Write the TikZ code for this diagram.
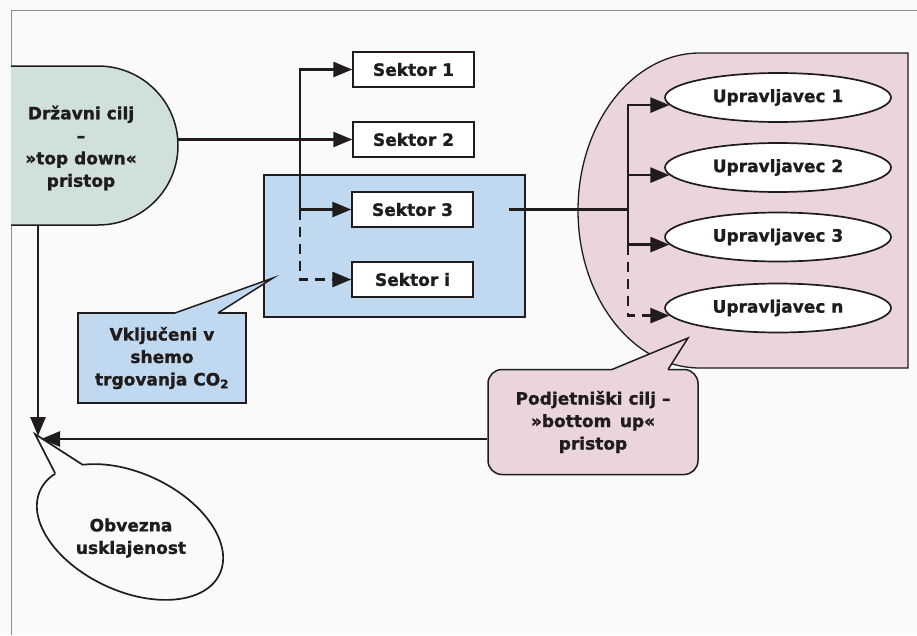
\documentclass[tikz,border=0pt]{standalone}
\usepackage{fontspec}
\setmainfont{DejaVu Sans}[BoldFeatures={FakeBold=1.2}]
\usepackage{xcolor}
\usepackage{tikz}
\usetikzlibrary{arrows, arrows.meta}
\usetikzlibrary{positioning}
\usetikzlibrary{shapes.geometric}

\definecolor{drzavnafill}{RGB}{208,225,217}
\definecolor{etsfill}{RGB}{192,217,240}
\definecolor{podjfill}{RGB}{234,213,222}
\definecolor{papir}{RGB}{250,250,250}
\definecolor{crta}{RGB}{32,28,28}

\tikzset{
  besedilo/.style={font=\bfseries\fontsize{17}{22.5}\selectfont, text=crta, align=center},
  obroba/.style={draw=crta, line width=1.5pt, line join=miter},
  okvir/.style={draw=black!45, line width=1pt},
  sektorbox/.style={besedilo, draw=crta, line width=1.4pt, fill=white,
    minimum width=121, minimum height=35, inner sep=0pt},
  upravljavec/.style={besedilo, ellipse, draw=crta, line width=1.7pt, fill=white,
    minimum width=226, minimum height=49, inner sep=0pt},
  etsbox/.style={draw=crta, line width=1.3pt, fill=etsfill,
    minimum width=261, minimum height=142, inner sep=0pt},
  klicmodri/.style={besedilo, obroba, fill=etsfill,
    minimum width=168, minimum height=90, inner sep=0pt},
  klicrozni/.style={besedilo, obroba, fill=podjfill, rounded corners=14pt,
    minimum width=210, minimum height=105, inner sep=0pt},
  povezava/.style={draw=crta, line width=2.6pt},
  puscica/.style={povezava, -{Triangle[length=19pt, width=15pt]}},
  crtkano/.style={dash pattern=on 10pt off 7pt},
}

\begin{document}
\begin{tikzpicture}[x=1pt, y=-1pt]
  \useasboundingbox (0,0) rectangle (917,635);
  \fill[papir] (0,0) rectangle (917,635);
  \draw[okvir] (11,635) -- (11,10) -- (917,10);

  % ozadja
  \fill[drzavnafill] (11,66) -- (98,66)
    arc[start angle=-90, end angle=90, x radius=80, y radius=79.5] -- (11,225) -- cycle;
  \draw[obroba] (11,66) -- (98,66)
    arc[start angle=-90, end angle=90, x radius=80, y radius=79.5] -- (11,225);
  \draw[obroba, line width=1.3pt, fill=podjfill] (908,53) -- (700,53)
    arc[start angle=-90, end angle=-270, x radius=122, y radius=157.5] -- (908,368) -- cycle;
  \node[etsbox] (ets) at (394.5,246) {};

  \node[besedilo] (drzavni) at (81,148) {Državni cilj\\–\\»top down«\\pristop};

  \node[sektorbox] (sektor1) at (413.5,69.5) {Sektor 1};
  \node[sektorbox] (sektor2) at (413.5,139.5) {Sektor 2};
  \node[sektorbox] (sektor3) at (412.5,209.5) {Sektor 3};
  \node[sektorbox] (sektori) at (412.5,279.5) {Sektor i};

  \node[upravljavec] (upr1) at (778,97.5) {Upravljavec 1};
  \node[upravljavec] (upr2) at (778,167.5) {Upravljavec 2};
  \node[upravljavec] (upr3) at (778,237) {Upravljavec 3};
  \node[upravljavec] (uprn) at (778,308) {Upravljavec n};

  % oblacki
  \node[klicmodri] (vkljuceni) at (162,358) {Vključeni v\\shemo\\trgovanja CO\textsubscript{2}};
  \coordinate (vklkonica) at (273,278);
  \fill[etsfill] (175,313) -- (vklkonica) -- (218,313) -- (218,316) -- (175,316) -- cycle;
  \draw[obroba] (175,313) -- (vklkonica) -- (218,313);

  \node[klicrozni] (podjetniski) at (593,422) {Podjetniški cilj –\\»bottom\hspace{0.5em}up«\\pristop};
  \coordinate (podkonica) at (688,338);
  \fill[podjfill] (612,369.5) -- (podkonica) -- (668,369.5) -- (668,373) -- (612,373) -- cycle;
  \draw[obroba] (612,369.5) -- (podkonica) -- (668,369.5);

  \draw[obroba, line width=1.7pt, fill=papir, rotate around={-25:(130,532)}]
    (130,532) ellipse [x radius=99, y radius=59];
  \coordinate (obvkonica) at (35,434);
  \fill[papir] (55,473) -- (obvkonica) -- (83,465) -- (87,471) -- (60,479) -- cycle;
  \draw[obroba, line width=1.7pt] (55,473) -- (obvkonica) -- (83,465);
  \node[besedilo] (obvezna) at (131,538) {Obvezna\\usklajenost};

  % povezave
  \coordinate (drzdesno) at (177,139.5);
  \coordinate (razcep) at (300,139.5);
  \draw[puscica] (drzdesno) -- (sektor2.west);
  \draw[puscica] (razcep) |- (sektor1.west);
  \draw[puscica] (razcep) |- (sektor3.west);
  \draw[puscica, crtkano] (razcep |- sektor3.west) |- (sektori.west);

  \coordinate (vodilo) at (628,209.5);
  \draw[povezava] ([xshift=35pt]sektor3.east) -- (vodilo);
  \draw[puscica] (vodilo) |- (upr1.184);
  \draw[puscica] (vodilo) |- (upr2.184);
  \draw[puscica] (vodilo) |- (upr3.184);
  \draw[puscica, crtkano] (vodilo |- upr3.184) |- (uprn.184);

  \coordinate (drzspodaj) at (38,225);
  \coordinate (zbir) at (38,439);
  \draw[puscica] (drzspodaj) -- ([yshift=3pt]zbir);
  \draw[puscica] (podjetniski.west |- zbir) -- ([xshift=3pt]zbir);
\end{tikzpicture}
\end{document}
